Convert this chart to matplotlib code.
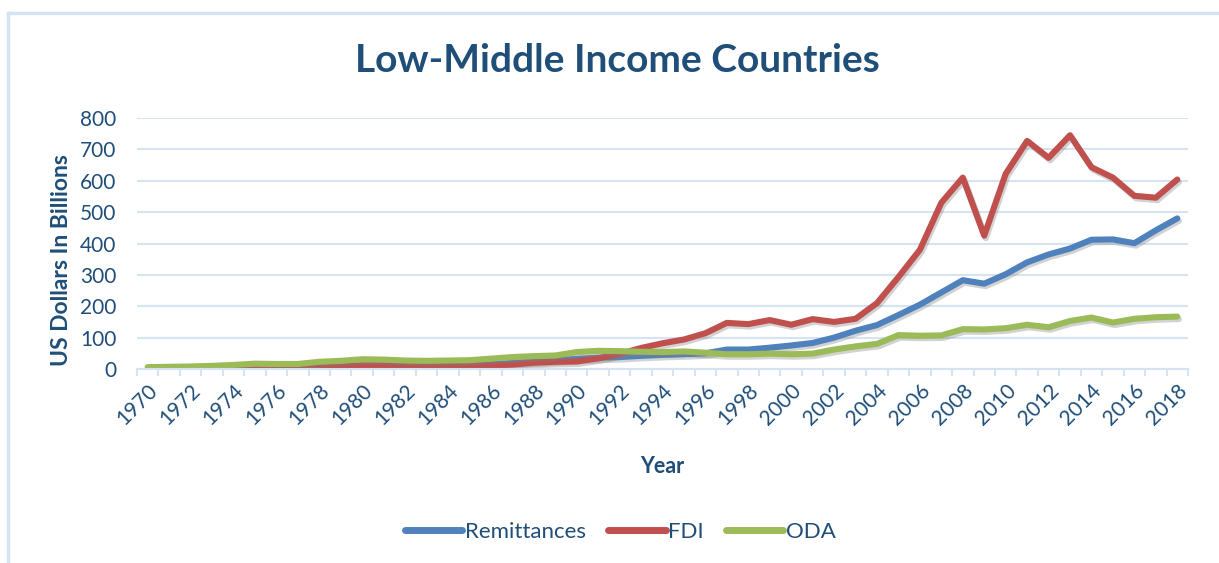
import numpy as np
import matplotlib
matplotlib.use("Agg")
from matplotlib import pyplot as plt
import matplotlib.patheffects as pe
from matplotlib.lines import Line2D

years = list(range(1970, 2019))

remittances = [1, 1, 1, 2, 3, 3, 4, 5, 6, 7,
               8, 9, 9, 10, 11, 12, 15, 19, 24, 28,
               32, 36, 38, 42, 45, 47, 50, 62, 62, 68,
               75, 83, 100, 122, 140, 172, 205, 244, 283, 272,
               302, 340, 365, 384, 412, 413, 401, 442, 480]

fdi = [0, 0, 1, 1, 1, 3, 2, 3, 6, 9,
       12, 12, 10, 8, 9, 9, 11, 14, 20, 23,
       24, 34, 48, 67, 82, 94, 114, 147, 143, 156,
       141, 159, 150, 160, 210, 293, 380, 530, 610, 425,
       622, 727, 673, 745, 643, 610, 552, 546, 604]

oda = [6, 7, 8, 10, 13, 17, 16, 16, 23, 26,
       31, 30, 27, 26, 27, 28, 33, 38, 41, 43,
       54, 58, 57, 55, 54, 56, 52, 47, 47, 49,
       47, 49, 62, 72, 80, 108, 106, 107, 127, 126,
       130, 141, 133, 153, 164, 148, 160, 165, 167]

series_names = ["Remittances", "FDI", "ODA"]
series_colors = ["#4F81BD", "#C0504D", "#9BBB59"]

text_col = "#1F4E79"
grid_col = "#D6E3F3"

plt.rcParams['font.family'] = ['Lato', 'DejaVu Sans']

fig = plt.figure(figsize=(12.19, 5.63), dpi=100)
ax = fig.add_axes([137 / 1219, 1 - 369 / 563, (1188 - 137) / 1219, (369 - 118) / 563])

x = np.arange(len(years))
shadow = [pe.SimpleLineShadow(offset=(1.2, -1.8), shadow_color="gray", alpha=0.35), pe.Normal()]
for vals, name, col in zip([remittances, fdi, oda], series_names, series_colors):
    ax.plot(x, vals, color=col, lw=4.4, label=name, solid_capstyle="round",
            solid_joinstyle="round", path_effects=shadow)

ax.set_xlim(-0.5, len(years) - 0.5)
ax.set_ylim(0, 800)
ax.set_yticks(range(0, 801, 100))
ax.yaxis.grid(True, color=grid_col, lw=1.5)
ax.set_axisbelow(True)

for s in ["top", "right", "left"]:
    ax.spines[s].set_visible(False)
ax.spines["bottom"].set_color(grid_col)
ax.spines["bottom"].set_linewidth(1.5)

# category boundaries get the tick marks, labels sit on every other year
ax.set_xticks(np.arange(-0.5, len(years), 1), minor=False)
ax.tick_params(axis="x", which="major", length=5, width=1.5, color=grid_col, labelbottom=False)
ax.set_xticks(x[::2], minor=True)
ax.set_xticklabels([str(y) for y in years[::2]], minor=True, rotation=45,
                   ha="right", va="top", rotation_mode="anchor")
ax.tick_params(axis="x", which="minor", length=0, pad=8, labelsize=15, labelcolor=text_col)
ax.tick_params(axis="y", length=0, pad=15, labelsize=15, labelcolor=text_col)

ax.set_ylabel("US Dollars In Billions", fontsize=16.5, fontweight="bold", color=text_col,
              ha="center", va="center")
ax.yaxis.set_label_coords(-0.0714, 0.434)
ax.set_xlabel("Year", fontsize=15.5, fontweight="bold", color=text_col, labelpad=20)

fig.text(617 / 1219, 1 - 60 / 563, "Low-Middle Income Countries", ha="center", va="center",
         fontsize=28, fontweight="bold", color=text_col)

handles = [Line2D([0], [0], color=c, lw=5, solid_capstyle="round") for c in series_colors]
fig.legend(handles, series_names, loc="center", bbox_to_anchor=(620 / 1219, 1 - 532 / 563),
           ncol=3, frameon=False, fontsize=16, handlelength=2.6, handletextpad=0.1,
           columnspacing=1.0, labelcolor=text_col)

# chart area border
fig.add_artist(Line2D([8 / 1219, 8 / 1219], [0, 1 - 13 / 563], color=grid_col, lw=2.5))
fig.add_artist(Line2D([8 / 1219, 1], [1 - 13 / 563, 1 - 13 / 563], color=grid_col, lw=2.5))

fig.savefig("out.png", dpi=100)
